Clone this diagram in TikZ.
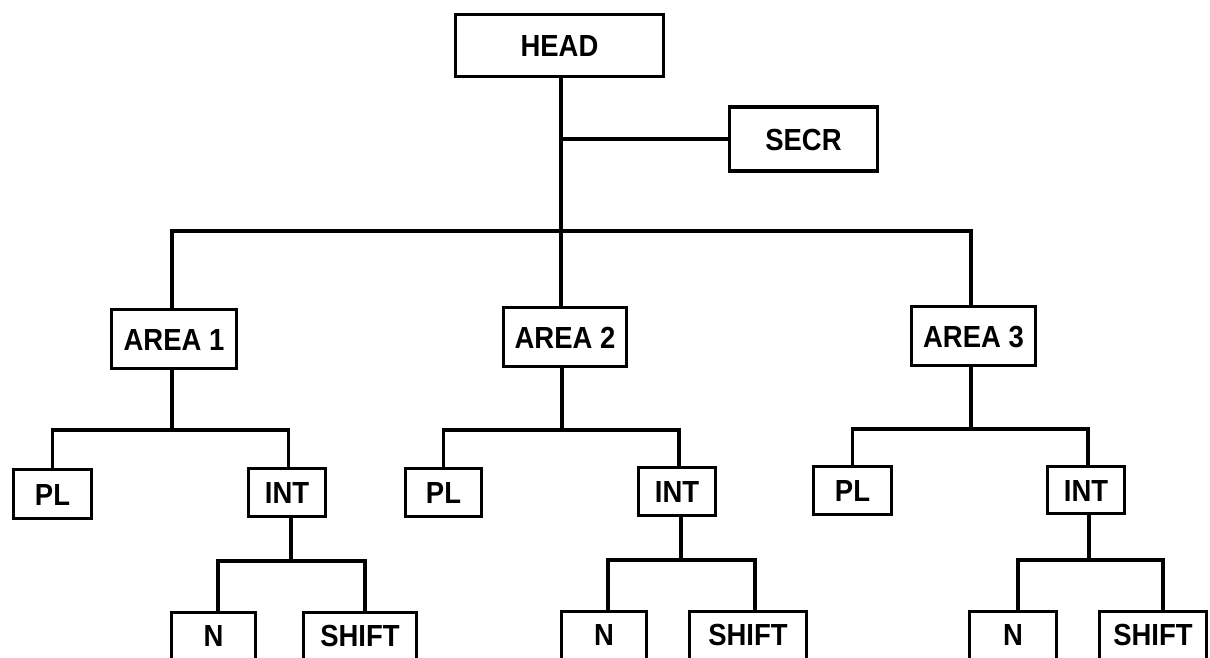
\documentclass[tikz,border=0pt]{standalone}
\usepackage{fontspec}
\setmainfont{Liberation Sans}[FakeStretch=0.9]
\begin{document}
\begin{tikzpicture}[x=1pt,y=-1pt,
  line width=3.8pt,
  box/.style={draw, inner sep=0pt, text height=22pt, text depth=0pt,
    font=\fontsize{30.5}{32}\selectfont\bfseries},
  openbox/.style={draw, anchor=north, inner sep=0pt, minimum height=100pt,
    text height=22pt, text depth=54pt,
    font=\fontsize{30.5}{32}\selectfont\bfseries}]
\useasboundingbox (0,0) rectangle (1210,657);
% nodes
\node[box, minimum width=208pt, minimum height=62pt] (head) at (559.5,45.5) {HEAD};
\node[box, minimum width=148pt, minimum height=64pt] (secr) at (803.5,139) {SECR};
\node[box, minimum width=125pt, minimum height=59pt] (area1) at (174,339) {AREA 1};
\node[box, minimum width=123pt, minimum height=59pt] (area2) at (565,337) {AREA 2};
\node[box, minimum width=124pt, minimum height=59pt] (area3) at (973.5,336) {AREA 3};
\node[box, minimum width=78pt, minimum height=49pt] (pl1) at (52.5,494) {PL};
\node[box, minimum width=77pt, minimum height=48pt] (int1) at (287,492.5) {INT};
\node[box, minimum width=76pt, minimum height=48pt] (pl2) at (443.5,492.5) {PL};
\node[box, minimum width=77pt, minimum height=48pt] (int2) at (677,491.5) {INT};
\node[box, minimum width=78pt, minimum height=48pt] (pl3) at (852.5,490.5) {PL};
\node[box, minimum width=77pt, minimum height=47pt] (int3) at (1086,490) {INT};
\node[openbox, minimum width=84pt] (n1) at (213.5,610.5) {N};
\node[openbox, minimum width=113pt] (s1) at (360,610.5) {SHIFT};
\node[openbox, minimum width=85pt] (n2) at (604,609.5) {N};
\node[openbox, minimum width=117pt] (s2) at (748,609.5) {SHIFT};
\node[openbox, minimum width=87pt] (n3) at (1013,609.5) {N};
\node[openbox, minimum width=107pt] (s3) at (1153,609.5) {SHIFT};
% junctions
\coordinate (tb) at (561,231);
\coordinate (tbl) at (172,231);
\coordinate (tbr) at (971,231);
\coordinate (sj) at (561,139);
\coordinate (j1) at (172,430);
\coordinate (j2) at (562,430);
\coordinate (j3) at (971,429);
\coordinate (k1) at (291,561);
\coordinate (k2) at (681,560);
\coordinate (k3) at (1089,560);
% connectors
\draw (head.south -| tb) -- (area2.north -| tb);
\draw (sj) -- (secr.west);
\draw (area1.north -| tbl) -- (tbl) -- (tbr) -- (area3.north -| tbr);
\draw (area1.south -| j1) -- (j1);
\draw (area2.south -| j2) -- (j2);
\draw (area3.south -| j3) -- (j3);
\draw (pl1.north) |- (j1) -| ([xshift=1.5pt]int1.north);
\draw (pl2.north) |- (j2) -| ([xshift=2pt]int2.north);
\draw (pl3.north) |- (j3) -| ([xshift=2pt]int3.north);
\draw (int1.south -| k1) -- (k1);
\draw (int2.south -| k2) -- (k2);
\draw (int3.south -| k3) -- (k3);
\draw ([xshift=4.5pt]n1.north) |- (k1) -| ([xshift=5pt]s1.north);
\draw ([xshift=4pt]n2.north) |- (k2) -| ([xshift=7pt]s2.north);
\draw ([xshift=5pt]n3.north) |- (k3) -| ([xshift=10pt]s3.north);
\end{tikzpicture}
\end{document}
